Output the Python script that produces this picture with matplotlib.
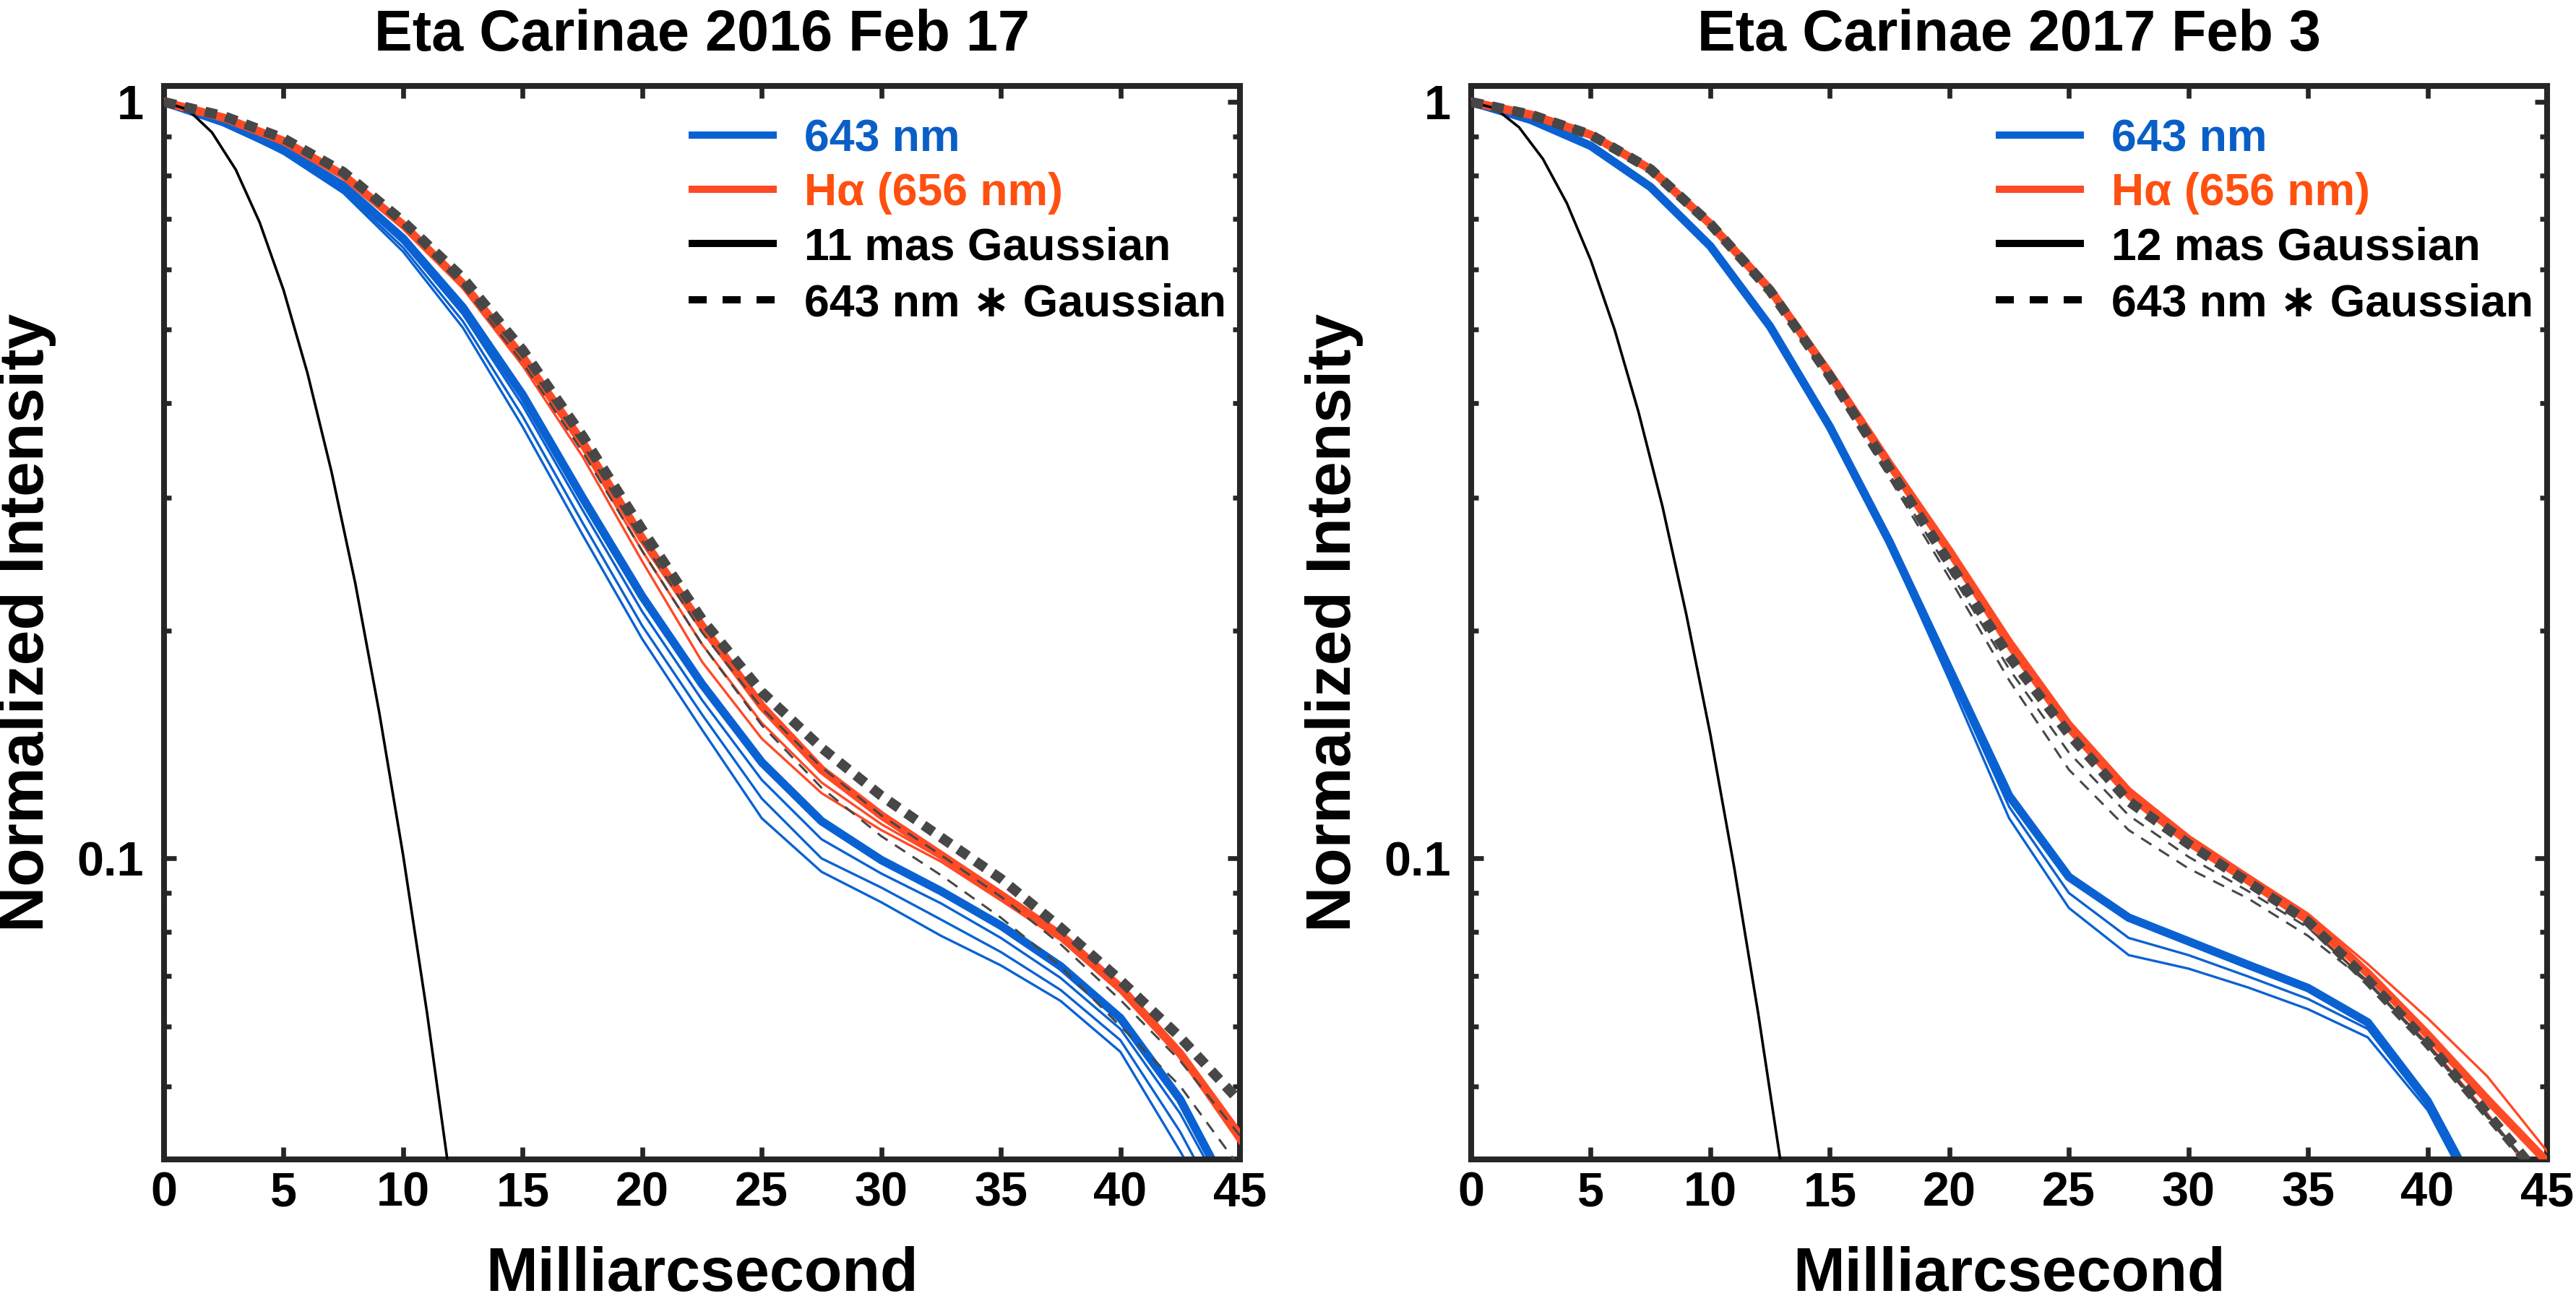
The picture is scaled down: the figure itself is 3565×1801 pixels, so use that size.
import matplotlib
matplotlib.use('Agg')
import matplotlib.pyplot as plt

plt.rcParams['font.family'] = ['Liberation Sans', 'DejaVu Sans']
plt.rcParams['font.weight'] = 'bold'

# radial distance grid (mas) for the measured profiles
mas = [0, 2.5, 5, 7.5, 10, 12.5, 15, 17.5, 20, 22.5, 25, 27.5, 30,
       32.5, 35, 37.5, 40, 42.5, 45]

# Gaussian reference profiles
gauss_x = [0, 1, 2, 3, 4, 5, 6, 7, 8, 9, 10, 11, 12, 13]
gauss_11 = [1.0, 0.977, 0.912, 0.814, 0.693, 0.564, 0.438, 0.325, 0.231,
            0.156, 0.101, 0.0625, 0.0369, 0.021]
gauss_12 = [1.0, 0.981, 0.926, 0.841, 0.735, 0.618, 0.500, 0.389, 0.292,
            0.210, 0.146, 0.0973, 0.0625, 0.0386]

# ---- 2016 Feb 17 ----
blue_2016 = [
    [1.0, 0.94, 0.865, 0.775, 0.66, 0.535, 0.41, 0.30, 0.222, 0.170, 0.134,
     0.112, 0.0995, 0.0905, 0.0815, 0.0720, 0.0615, 0.048, 0.034],
    [1.0, 0.938, 0.861, 0.769, 0.651, 0.524, 0.397, 0.289, 0.212, 0.162,
     0.127, 0.106, 0.0955, 0.0872, 0.0785, 0.0695, 0.0595, 0.046, 0.033],
    [1.0, 0.936, 0.857, 0.763, 0.642, 0.513, 0.384, 0.278, 0.203, 0.155,
     0.120, 0.100, 0.0915, 0.0830, 0.0752, 0.0670, 0.0575, 0.0435, 0.031],
    [1.0, 0.935, 0.854, 0.758, 0.634, 0.503, 0.372, 0.268, 0.195, 0.148,
     0.113, 0.096, 0.0875, 0.079, 0.0722, 0.0648, 0.0555, 0.041, 0.030],
]
red_2016 = [
    [1.0, 0.953, 0.888, 0.80, 0.688, 0.575, 0.46, 0.355, 0.265, 0.203, 0.159,
     0.131, 0.114, 0.101, 0.0895, 0.0792, 0.0675, 0.0552, 0.043],
    [1.0, 0.952, 0.886, 0.798, 0.684, 0.571, 0.454, 0.348, 0.255, 0.192,
     0.151, 0.126, 0.111, 0.100, 0.0885, 0.0785, 0.0670, 0.0548, 0.0425],
    [1.0, 0.952, 0.885, 0.797, 0.681, 0.567, 0.448, 0.34, 0.247, 0.182,
     0.144, 0.122, 0.109, 0.099, 0.088, 0.078, 0.0665, 0.0545, 0.042],
]
dash_2016 = [
    [1.0, 0.958, 0.895, 0.808, 0.695, 0.585, 0.47, 0.362, 0.272, 0.207,
     0.166, 0.140, 0.121, 0.1066, 0.094, 0.081, 0.069, 0.058, 0.0477],
    [1.0, 0.957, 0.892, 0.805, 0.69, 0.578, 0.46, 0.353, 0.263, 0.199, 0.158,
     0.132, 0.114, 0.101, 0.089, 0.077, 0.065, 0.054, 0.043],
    [1.0, 0.955, 0.89, 0.80, 0.685, 0.57, 0.452, 0.345, 0.255, 0.192, 0.150,
     0.124, 0.107, 0.095, 0.0835, 0.072, 0.060, 0.050, 0.039],
]

# ---- 2017 Feb 3 ----
blue_2017 = [
    [1.0, 0.947, 0.875, 0.772, 0.645, 0.505, 0.372, 0.262, 0.178, 0.121,
     0.0945, 0.0835, 0.0777, 0.0723, 0.0674, 0.0607, 0.0478, 0.034, 0.023],
    [1.0, 0.946, 0.874, 0.770, 0.642, 0.502, 0.369, 0.26, 0.175, 0.117,
     0.090, 0.0785, 0.0745, 0.0698, 0.0652, 0.0595, 0.047, 0.0335, 0.0225],
    [1.0, 0.946, 0.873, 0.768, 0.639, 0.499, 0.366, 0.258, 0.172, 0.113,
     0.086, 0.0745, 0.0715, 0.0675, 0.0632, 0.058, 0.0465, 0.033, 0.022],
]
red_2017 = [
    [1.0, 0.962, 0.905, 0.815, 0.69, 0.565, 0.437, 0.332, 0.255, 0.193,
     0.150, 0.1225, 0.106, 0.094, 0.0835, 0.0705, 0.0585, 0.048, 0.0397],
    [1.0, 0.963, 0.907, 0.818, 0.694, 0.569, 0.441, 0.336, 0.258, 0.196,
     0.152, 0.124, 0.107, 0.095, 0.0845, 0.0725, 0.0615, 0.0515, 0.041],
    [1.0, 0.961, 0.903, 0.812, 0.686, 0.56, 0.432, 0.328, 0.251, 0.189,
     0.147, 0.120, 0.104, 0.0925, 0.082, 0.0685, 0.057, 0.046, 0.036],
]
dash_2017 = [
    [1.0, 0.962, 0.905, 0.815, 0.69, 0.563, 0.434, 0.327, 0.246, 0.185,
     0.146, 0.119, 0.1045, 0.093, 0.0825, 0.069, 0.057, 0.046, 0.037],
    [1.0, 0.962, 0.904, 0.813, 0.688, 0.56, 0.43, 0.322, 0.24, 0.178, 0.138,
     0.114, 0.1005, 0.0905, 0.081, 0.0688, 0.0568, 0.0458, 0.0368],
    [1.0, 0.961, 0.903, 0.812, 0.686, 0.558, 0.426, 0.318, 0.235, 0.172,
     0.131, 0.109, 0.097, 0.0885, 0.079, 0.0685, 0.0565, 0.0455, 0.0365],
]

x_ticks = [0, 5, 10, 15, 20, 25, 30, 35, 40, 45]

BLUE = '#0a62d2'
RED = '#ff4a26'
BLUE_TXT = '#0a5fc6'
RED_TXT = '#ff5010'
GRAY = '#474747'
FRAME = '#262626'


def draw_panel(ax, blue, red, dashed, gauss_y, title, gauss_label):
    for i, y in enumerate(blue):
        ax.plot(mas, y, color=BLUE, lw=4.2 if i == 0 else 1.2, zorder=2)
    for i, y in enumerate(red):
        ax.plot(mas, y, color=RED, lw=4.2 if i == 0 else 1.2, zorder=3)
    ax.plot(gauss_x, gauss_y, color='black', lw=1.3, zorder=4)
    for i, y in enumerate(dashed):
        if i == 0:
            ax.plot(mas, y, color=GRAY, lw=5.0, ls=(0, (1.2, 0.9)), zorder=5)
        else:
            ax.plot(mas, y, color=GRAY, lw=1.1, ls=(0, (5.5, 4.0)), zorder=5)

    ax.set_yscale('log')
    ax.set_xlim(0, 45)
    ax.set_ylim(0.04, 1.05)
    ax.set_xticks(x_ticks)
    ax.set_yticks([0.1, 1])
    ax.set_yticklabels(['0.1', '1'])
    ax.tick_params(which='both', direction='in', top=True, right=True,
                   color=FRAME, width=2.4, labelsize=24)
    ax.tick_params(which='major', length=6)
    ax.tick_params(which='minor', length=3.6)
    ax.tick_params(axis='x', pad=6)
    ax.tick_params(axis='y', pad=10)
    ax.yaxis.set_minor_formatter(plt.NullFormatter())
    for s in ax.spines.values():
        s.set_linewidth(2.9)
        s.set_color(FRAME)
    ax.set_title(title, fontsize=28.5, fontweight='bold', pad=17.5)

    # legend drawn by hand, matching the original layout
    rows = [
        ('643 nm', BLUE_TXT, dict(color=BLUE, lw=3.6)),
        ('H\u03b1 (656 nm)', RED_TXT, dict(color=RED, lw=3.6)),
        (gauss_label, 'black', dict(color='black', lw=3.6)),
        ('643 nm \u2217 Gaussian', 'black',
         dict(color='black', lw=3.6, ls=(0, (2.5, 2.2)))),
    ]
    ys = [0.954, 0.904, 0.853, 0.801]
    for (label, tcol, style), y in zip(rows, ys):
        ax.plot([0.4876, 0.5695], [y, y], transform=ax.transAxes,
                solid_capstyle='butt', dash_capstyle='butt', zorder=6, **style)
        ax.text(0.595, y - 0.0151, label, transform=ax.transAxes, ha='left',
                va='baseline', fontsize=22.5, fontweight='bold', color=tcol,
                zorder=6)


W, H = 3566, 1801
fig = plt.figure(figsize=(W / 200, H / 200), dpi=200)

ax_l = fig.add_axes([227 / W, 1 - 1605 / H, 1489 / W, 1486 / H])
ax_r = fig.add_axes([2036 / W, 1 - 1605 / H, 1489 / W, 1486 / H])

draw_panel(ax_l, blue_2016, red_2016, dash_2016, gauss_11,
           'Eta Carinae 2016 Feb 17', '11 mas Gaussian')
draw_panel(ax_r, blue_2017, red_2017, dash_2017, gauss_12,
           'Eta Carinae 2017 Feb 3', '12 mas Gaussian')

for left in (227, 2036):
    cx = (left + 1489 / 2) / W
    fig.text(cx, 14 / H, 'Milliarcsecond', ha='center', va='baseline',
             fontsize=31, fontweight='bold')
    fig.text((left - 189) / W, 1 - 862 / H, 'Normalized Intensity',
             rotation=90, ha='center', va='center', fontsize=31.5,
             fontweight='bold')

fig.savefig('out.png', dpi=200, facecolor='white')
